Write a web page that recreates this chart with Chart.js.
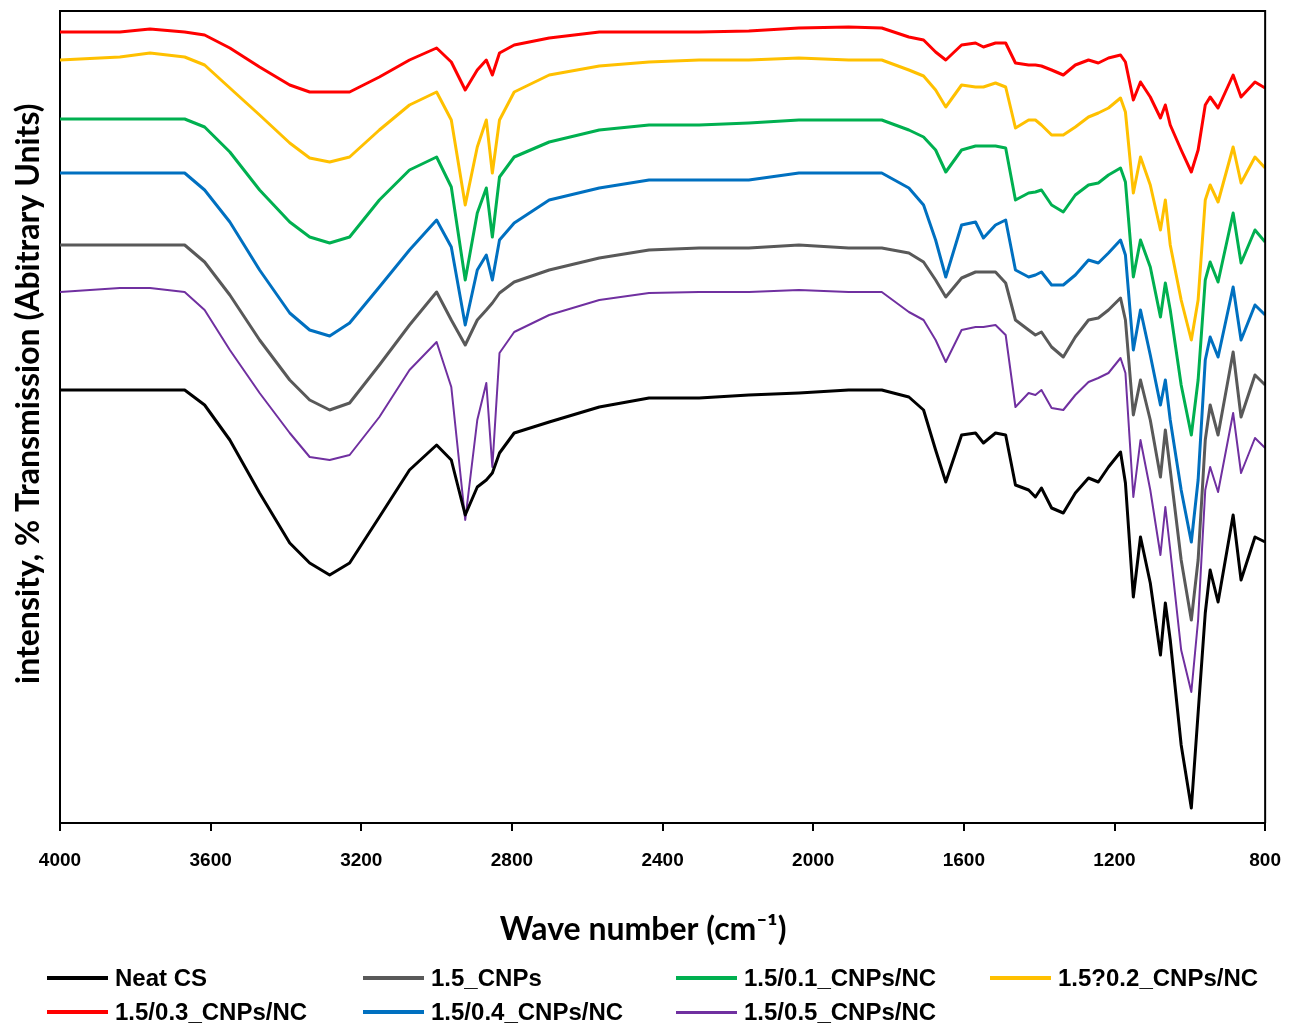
<!DOCTYPE html>
<html>
<head>
<meta charset="utf-8">
<script src="https://cdn.jsdelivr.net/npm/chart.js@4.4.0/dist/chart.umd.min.js"></script>
<style>
  body { margin: 0; background: #fff; }
  #wrap { position: relative; width: 1299px; height: 1026px; }
  #legend { position: absolute; left: 0; top: 961px; width: 1299px; height: 65px;
    font: bold 24px 'Liberation Sans', Arial, sans-serif; color: #000; }
  .item { position: absolute; display: flex; align-items: center; height: 34px; white-space: nowrap; }
  .swatch { width: 61px; height: 5px; margin-right: 7px; }
</style>
</head>
<body>
<div id="wrap">
  <canvas id="chart"></canvas>
  <div id="legend"></div>
</div>
<script>
// wave numbers (cm-1) shared by all spectra
const wavenumbers = [4000, 3841, 3761, 3669, 3616, 3549, 3470, 3390, 3337, 3284,
  3231, 3152, 3072, 3000, 2961, 2924, 2892, 2868, 2852, 2833,
  2794, 2701, 2568, 2436, 2303, 2171, 2038, 1906, 1818, 1746,
  1707, 1675, 1648, 1606, 1569, 1548, 1516, 1489, 1463, 1428,
  1410, 1394, 1367, 1336, 1304, 1269, 1243, 1216, 1184, 1171,
  1150, 1131, 1105, 1078, 1065, 1052, 1023, 996, 978, 959,
  946, 925, 885, 864, 827, 800];

// stacked transmission (arbitrary units)
const neatCS = [43.3, 43.3, 43.3, 43.3, 41.8, 38.3, 33.0, 28.0, 26.0, 24.8,
  26.0, 30.6, 35.3, 37.8, 36.3, 30.8, 33.6, 34.3, 35.0, 37.0,
  39.0, 40.1, 41.6, 42.5, 42.5, 42.8, 43.0, 43.3, 43.3, 42.6,
  41.3, 37.3, 34.1, 38.8, 39.0, 38.0, 39.0, 38.8, 33.8, 33.3,
  32.6, 33.5, 31.5, 31.0, 33.0, 34.5, 34.1, 35.6, 37.1, 34.0,
  22.6, 28.6, 24.0, 16.8, 22.0, 18.3, 7.8, 1.5, 11.0, 21.0,
  25.3, 22.1, 30.8, 24.3, 28.6, 28.1];
const cnp15 = [57.8, 57.8, 57.8, 57.8, 56.1, 52.8, 48.3, 44.3, 42.3, 41.3,
  42.0, 45.8, 49.8, 53.1, 50.3, 47.8, 50.3, 51.3, 52.0, 53.0,
  54.1, 55.3, 56.5, 57.3, 57.5, 57.5, 57.8, 57.5, 57.5, 57.0,
  56.1, 54.3, 52.6, 54.5, 55.1, 55.1, 55.1, 54.0, 50.3, 49.3,
  48.8, 49.1, 47.6, 46.6, 48.6, 50.3, 50.5, 51.3, 52.5, 50.3,
  40.8, 44.3, 40.3, 34.6, 39.3, 35.3, 26.3, 20.3, 26.3, 38.3,
  41.8, 38.8, 47.1, 40.6, 44.8, 43.8];
const nc01 = [70.4, 70.4, 70.4, 70.4, 69.6, 67.1, 63.3, 60.1, 58.6, 58.0,
  58.6, 62.3, 65.3, 66.6, 63.6, 54.3, 61.0, 63.5, 58.6, 64.6,
  66.6, 68.1, 69.3, 69.8, 69.8, 70.0, 70.3, 70.3, 70.3, 69.3,
  68.6, 67.3, 65.1, 67.3, 67.7, 67.7, 67.7, 67.5, 62.3, 63.0,
  63.1, 63.3, 61.8, 61.1, 62.8, 63.8, 64.0, 64.8, 65.5, 64.1,
  54.6, 58.3, 55.6, 50.6, 54.0, 51.3, 43.8, 38.8, 44.3, 54.3,
  56.1, 54.1, 61.0, 56.0, 59.3, 58.1];
const nc02 = [76.3, 76.6, 77.0, 76.6, 75.8, 73.5, 70.8, 68.0, 66.5, 66.1,
  66.6, 69.3, 71.8, 73.1, 70.3, 61.8, 67.6, 70.3, 65.0, 70.3,
  73.1, 74.8, 75.7, 76.1, 76.3, 76.3, 76.5, 76.3, 76.3, 75.3,
  74.7, 73.3, 71.6, 73.8, 73.6, 73.6, 74.0, 73.6, 69.5, 70.3,
  70.3, 69.8, 68.8, 68.8, 69.6, 70.6, 71.0, 71.5, 72.5, 71.1,
  63.0, 66.6, 63.8, 59.3, 62.3, 57.8, 52.3, 48.3, 52.3, 62.3,
  63.8, 62.1, 67.6, 64.0, 66.6, 65.5];
const nc03 = [79.1, 79.1, 79.4, 79.1, 78.8, 77.5, 75.6, 73.8, 73.1, 73.1,
  73.1, 74.6, 76.3, 77.5, 76.1, 73.3, 75.3, 76.3, 74.8, 77.0,
  77.8, 78.5, 79.1, 79.1, 79.1, 79.2, 79.5, 79.6, 79.5, 78.6,
  78.3, 77.1, 76.3, 77.8, 78.0, 77.6, 78.0, 78.0, 76.0, 75.8,
  75.8, 75.7, 75.3, 74.8, 75.8, 76.3, 76.0, 76.5, 76.8, 76.1,
  72.3, 74.1, 72.6, 70.5, 71.8, 69.8, 67.3, 65.1, 67.3, 71.8,
  72.6, 71.5, 74.8, 72.6, 74.1, 73.5];
const nc04 = [65.0, 65.0, 65.0, 65.0, 63.3, 60.1, 55.3, 51.0, 49.3, 48.7,
  50.0, 53.6, 57.3, 60.3, 57.6, 49.8, 55.3, 56.8, 54.3, 58.3,
  60.0, 62.3, 63.5, 64.3, 64.3, 64.3, 65.0, 65.0, 65.0, 63.5,
  61.8, 58.3, 54.6, 59.8, 60.1, 58.5, 59.8, 60.3, 55.3, 54.6,
  54.8, 55.1, 53.8, 53.8, 54.8, 56.3, 56.0, 57.0, 58.3, 56.8,
  47.3, 51.3, 46.8, 41.8, 44.3, 40.3, 33.3, 28.1, 34.3, 46.3,
  48.6, 46.6, 53.6, 48.3, 51.8, 50.8];
const nc05 = [53.1, 53.5, 53.5, 53.1, 51.3, 47.3, 43.0, 39.0, 36.6, 36.3,
  36.8, 40.6, 45.3, 48.1, 43.6, 30.3, 40.3, 44.0, 35.6, 47.0,
  49.1, 50.8, 52.3, 53.0, 53.1, 53.1, 53.3, 53.1, 53.1, 51.1,
  50.3, 48.3, 46.1, 49.3, 49.6, 49.6, 49.8, 48.8, 41.6, 43.0,
  42.8, 43.3, 41.5, 41.3, 42.8, 44.1, 44.5, 45.0, 46.5, 45.0,
  32.6, 38.3, 33.3, 26.8, 31.6, 27.3, 17.3, 13.1, 20.3, 33.3,
  35.6, 33.1, 41.0, 35.0, 38.5, 37.5];

const seriesNames = ["Neat CS", "1.5_CNPs", "1.5/0.1_CNPs/NC", "1.5?0.2_CNPs/NC",
  "1.5/0.3_CNPs/NC", "1.5/0.4_CNPs/NC", "1.5/0.5_CNPs/NC"];
const seriesValues = [neatCS, cnp15, nc01, nc02, nc03, nc04, nc05];
const seriesColors = ["#000000", "#595959", "#00B050", "#FFC000", "#FF0000", "#0070C0", "#7030A0"];
const seriesWidths = [3, 3, 3, 3, 3, 3, 2];

const xTicks = [4000, 3600, 3200, 2800, 2400, 2000, 1600, 1200, 800];

// top and right edges of the plot frame
const frame = {
  id: "frame",
  afterDraw(chart) {
    const { ctx, chartArea: a } = chart;
    ctx.save();
    ctx.strokeStyle = "#000";
    ctx.lineWidth = 2;
    ctx.beginPath();
    ctx.moveTo(a.left, a.top);
    ctx.lineTo(a.right, a.top);
    ctx.lineTo(a.right, a.bottom);
    ctx.stroke();
    ctx.restore();
  },
};

const titleFont = { family: "Lato, 'Open Sans', sans-serif", size: 32, weight: "bold" };
const tickFont = { family: "'Liberation Sans', Arial, sans-serif", size: 19, weight: "bold" };

new Chart(document.getElementById("chart"), {
  type: "line",
  data: {
    datasets: seriesNames.map((name, i) => ({
      label: name,
      data: wavenumbers.map((w, j) => ({ x: w, y: seriesValues[i][j] })),
      borderColor: seriesColors[i],
      backgroundColor: seriesColors[i],
      borderWidth: seriesWidths[i],
      borderJoinStyle: "round",
      pointRadius: 0,
      tension: 0,
    })),
  },
  options: {
    responsive: true,
    maintainAspectRatio: false,
    animation: false,
    layout: { padding: { top: 11, right: 32, left: 0, bottom: 0 } },
    plugins: { legend: { display: false }, tooltip: { enabled: false } },
    scales: {
      x: {
        type: "linear",
        reverse: true,
        min: 800,
        max: 4000,
        afterBuildTicks: (scale) => { scale.ticks = xTicks.map((v) => ({ value: v })); },
        afterFit: (scale) => { scale.height = 203; },
        ticks: { color: "#000", font: tickFont, padding: 18, maxRotation: 0, callback: (v) => String(v) },
        grid: { display: true, drawOnChartArea: false, drawTicks: true, tickLength: 8, color: "#000", lineWidth: 2 },
        border: { display: true, color: "#000", width: 2 },
        title: { display: true, text: "Wave number (cm\u207B\u00B9)     ", color: "#000", font: titleFont, padding: { top: 0, bottom: 77 } },
      },
      y: {
        min: 0,
        max: 81.2,
        afterFit: (scale) => { scale.width = 60; },
        ticks: { display: false },
        grid: { display: false },
        border: { display: true, color: "#000", width: 2 },
        title: { display: true, text: "      intensity, % Transmission (Abitrary Units)", color: "#000", font: titleFont, padding: { top: 9, bottom: 0 } },
      },
    },
  },
  plugins: [frame],
});

// legend laid out in four columns like the original
const legend = document.getElementById("legend");
const colLeft = [47, 363, 676, 990];
seriesNames.forEach((name, i) => {
  const item = document.createElement("div");
  item.className = "item";
  item.style.left = colLeft[i % 4] + "px";
  item.style.top = Math.floor(i / 4) * 34 + "px";
  const sw = document.createElement("span");
  sw.className = "swatch";
  sw.style.background = seriesColors[i];
  sw.style.height = (seriesWidths[i] + 1) + "px";
  const label = document.createElement("span");
  label.textContent = name;
  item.appendChild(sw);
  item.appendChild(label);
  legend.appendChild(item);
});
</script>
</body>
</html>
